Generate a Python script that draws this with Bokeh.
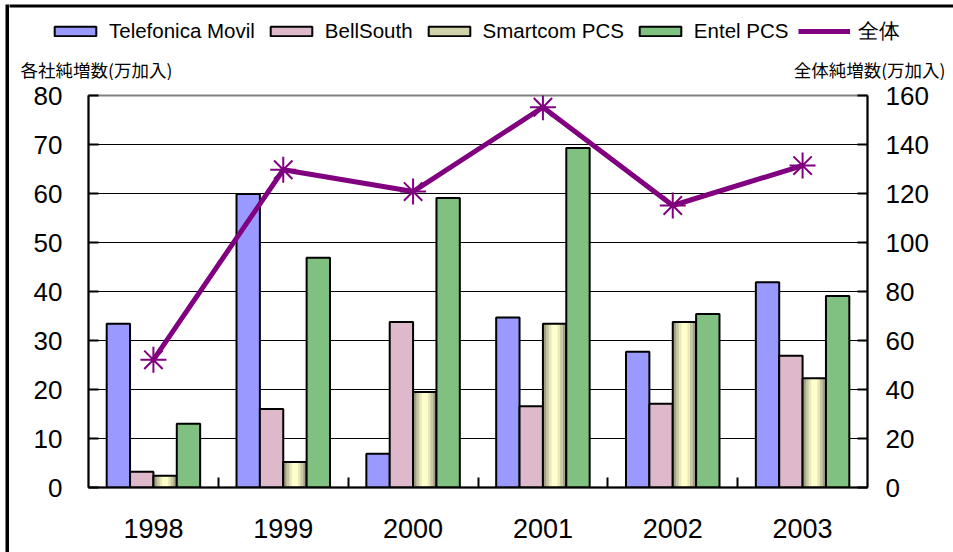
from bokeh.plotting import figure
from bokeh.layouts import column, row
from bokeh.models import (Range1d, LinearAxis, FixedTicker, Legend, LegendItem,
                          Label, ColumnDataSource, BoxAnnotation)
from bokeh.transform import dodge
from bokeh.embed import file_html
from bokeh.resources import INLINE

# ---- data ----
years = ["1998", "1999", "2000", "2001", "2002", "2003"]
telefonica = [33.4, 59.9, 6.9, 34.7, 27.7, 41.9]
bellsouth = [3.2, 16.0, 33.8, 16.6, 17.1, 26.9]
smartcom = [2.4, 5.2, 19.5, 33.4, 33.8, 22.3]
entel = [13.0, 46.9, 59.1, 69.3, 35.4, 39.1]
total = [52.1, 129.7, 120.8, 155.2, 115.1, 131.4]
left_ticks = [0, 10, 20, 30, 40, 50, 60, 70, 80]
right_ticks = [0, 20, 40, 60, 80, 100, 120, 140, 160]
series_names = ["Telefonica Movil", "BellSouth", "Smartcom PCS", "Entel PCS", "全体"]
left_title = "各社純増数(万加入)"
right_title = "全体純増数(万加入)"

idx = list(range(len(years)))
src = ColumnDataSource(dict(x=idx, tele=telefonica, bell=bellsouth, smart=smartcom,
                            entel=entel, total=total))

FONT = "Liberation Sans"
CJK = "Noto Sans CJK JP"
C_TELE, C_BELL, C_ENTEL, C_TOTAL = "#9999FF", "#DDB9CB", "#80C080", "#800080"
W = 0.18

# ================= main chart =================
p = figure(width=944, height=472, output_backend="svg", toolbar_location=None,
           x_range=Range1d(-0.5, len(years) - 0.5), y_range=Range1d(0, 80),
           min_border_left=79, min_border_right=86, min_border_top=15,
           min_border_bottom=65)
p.background_fill_color = "white"
p.border_fill_color = "white"
p.outline_line_color = "#808080"
p.outline_line_width = 2
p.extra_y_ranges = {"total": Range1d(0, 160)}

p.xgrid.visible = False
p.ygrid.ticker = FixedTicker(ticks=left_ticks)
p.ygrid.grid_line_color = "black"
p.ygrid.grid_line_width = 1

xa = p.xaxis[0]
xa.ticker = FixedTicker(ticks=idx, minor_ticks=[i + 0.5 for i in idx[:-1]])
xa.major_label_overrides = {i: y for i, y in zip(idx, years)}
xa.major_tick_in = 0
xa.major_tick_out = 0
xa.minor_tick_in = 10
xa.minor_tick_out = 0
xa.minor_tick_line_color = "black"
xa.minor_tick_line_width = 2
xa.axis_line_width = 2
xa.axis_line_color = "black"
xa.major_label_text_font = FONT
xa.major_label_text_font_size = "27px"
xa.major_label_text_color = "black"
xa.major_label_standoff = 31

ya = p.yaxis[0]
ya.ticker = FixedTicker(ticks=left_ticks)
ya.major_tick_in = 10
ya.major_tick_out = 0
ya.minor_tick_in = 0
ya.minor_tick_out = 0
ya.major_tick_line_width = 2
ya.axis_line_width = 2
ya.major_label_text_font = FONT
ya.major_label_text_font_size = "26px"
ya.major_label_text_color = "black"
ya.major_label_standoff = 26

ra = LinearAxis(y_range_name="total", ticker=FixedTicker(ticks=right_ticks))
ra.major_tick_in = 10
ra.major_tick_out = 0
ra.minor_tick_in = 0
ra.minor_tick_out = 0
ra.major_tick_line_width = 2
ra.axis_line_width = 2
ra.major_label_text_font = FONT
ra.major_label_text_font_size = "26px"
ra.major_label_text_color = "black"
ra.major_label_standoff = 18
p.add_layout(ra, "right")

p.vbar(x=dodge("x", -1.5 * W, range=p.x_range), top="tele", width=W, bottom=0,
       source=src, fill_color=C_TELE, line_color="black", line_width=2)
p.vbar(x=dodge("x", -0.5 * W, range=p.x_range), top="bell", width=W, bottom=0,
       source=src, fill_color=C_BELL, line_color="black", line_width=2)
# Smartcom: cylinder-like shading built from layered bars
sm_x = dodge("x", 0.5 * W, range=p.x_range)
for frac, col in [(1.0, "#A2A282"), (0.72, "#C8C8A4"), (0.48, "#E8E8BC"), (0.26, "#FFFFCC")]:
    p.vbar(x=sm_x, top="smart", width=W * frac, bottom=0, source=src,
           fill_color=col, line_color=None)
p.vbar(x=sm_x, top="smart", width=W, bottom=0, source=src,
       fill_alpha=0, line_color="black", line_width=2)
p.vbar(x=dodge("x", 1.5 * W, range=p.x_range), top="entel", width=W, bottom=0,
       source=src, fill_color=C_ENTEL, line_color="black", line_width=2)

p.line(x="x", y="total", source=src, y_range_name="total",
       line_color=C_TOTAL, line_width=5)
p.scatter(x="x", y="total", source=src, y_range_name="total", marker="asterisk",
          size=26, line_color=C_TOTAL, line_width=2)

# ================= header (legend + axis titles) =================
HW, HH = 944, 80
hdr = figure(width=HW, height=HH, output_backend="svg", toolbar_location=None,
             x_range=Range1d(0, HW), y_range=Range1d(0, HH),
             x_axis_type=None, y_axis_type=None,
             min_border_left=0, min_border_right=0, min_border_top=0, min_border_bottom=0)
hdr.outline_line_color = None
hdr.background_fill_color = "white"
hdr.border_fill_color = "white"
hdr.xgrid.visible = False
hdr.ygrid.visible = False

kw = dict(source=src, visible=False)
h_tele = hdr.vbar(x="x", top="tele", width=W, fill_color=C_TELE, line_color="black",
                  line_width=2, **kw)
h_bell = hdr.vbar(x="x", top="bell", width=W, fill_color=C_BELL, line_color="black",
                  line_width=2, **kw)
h_sm = hdr.vbar(x="x", top="smart", width=W, fill_color="#D2D2AA", line_color="black",
                line_width=2, **kw)
h_entel = hdr.vbar(x="x", top="entel", width=W, fill_color=C_ENTEL, line_color="black",
                   line_width=2, **kw)
h_line = hdr.line(x="x", y="total", line_color=C_TOTAL, line_width=5, **kw)
h_pts = hdr.scatter(x="x", y="total", marker="asterisk", size=20, line_color=C_TOTAL,
                    line_width=2, **kw)

legend = Legend(items=[
    LegendItem(label=series_names[0], renderers=[h_tele]),
    LegendItem(label=series_names[1], renderers=[h_bell]),
    LegendItem(label=series_names[2], renderers=[h_sm]),
    LegendItem(label=series_names[3], renderers=[h_entel]),
    LegendItem(label=series_names[4], renderers=[h_line, h_pts]),
], orientation="horizontal", location=(40, 35))
legend.glyph_width = 52
legend.glyph_height = 12
legend.label_standoff = 8
legend.spacing = 10
legend.padding = 0
legend.margin = 0
legend.label_text_font = FONT
legend.label_text_font_size = "20.5px"
legend.label_text_color = "black"
legend.border_line_alpha = 0
legend.background_fill_alpha = 0
legend.click_policy = "none"
hdr.add_layout(legend)

hdr.add_layout(Label(x=11, y=11, text=left_title, text_font=CJK, text_font_size="17.5px",
                     text_baseline="middle", text_align="left", text_color="black"))
hdr.add_layout(Label(x=936, y=11, text=right_title, text_font=CJK, text_font_size="17.5px",
                     text_baseline="middle", text_align="right", text_color="black"))
# outer chart border (top edge)
hdr.add_layout(BoxAnnotation(left=-2, right=HW, bottom=73, top=76, fill_color="black",
                             fill_alpha=1, line_color=None))

# ================= left strip (outer chart border, left edge) =================
strip = figure(width=9, height=552, output_backend="svg", toolbar_location=None,
               x_range=Range1d(0, 9), y_range=Range1d(0, 552),
               x_axis_type=None, y_axis_type=None,
               min_border_left=0, min_border_right=0, min_border_top=0, min_border_bottom=0)
strip.outline_line_color = None
strip.background_fill_color = "white"
strip.border_fill_color = "white"
strip.xgrid.visible = False
strip.ygrid.visible = False
strip.add_layout(BoxAnnotation(left=5, right=9, bottom=0, top=548, fill_color="black",
                               fill_alpha=1, line_color=None))

layout = row(strip, column(row(hdr), row(p)), spacing=0)
open("out.html", "w").write(file_html(layout, INLINE))
